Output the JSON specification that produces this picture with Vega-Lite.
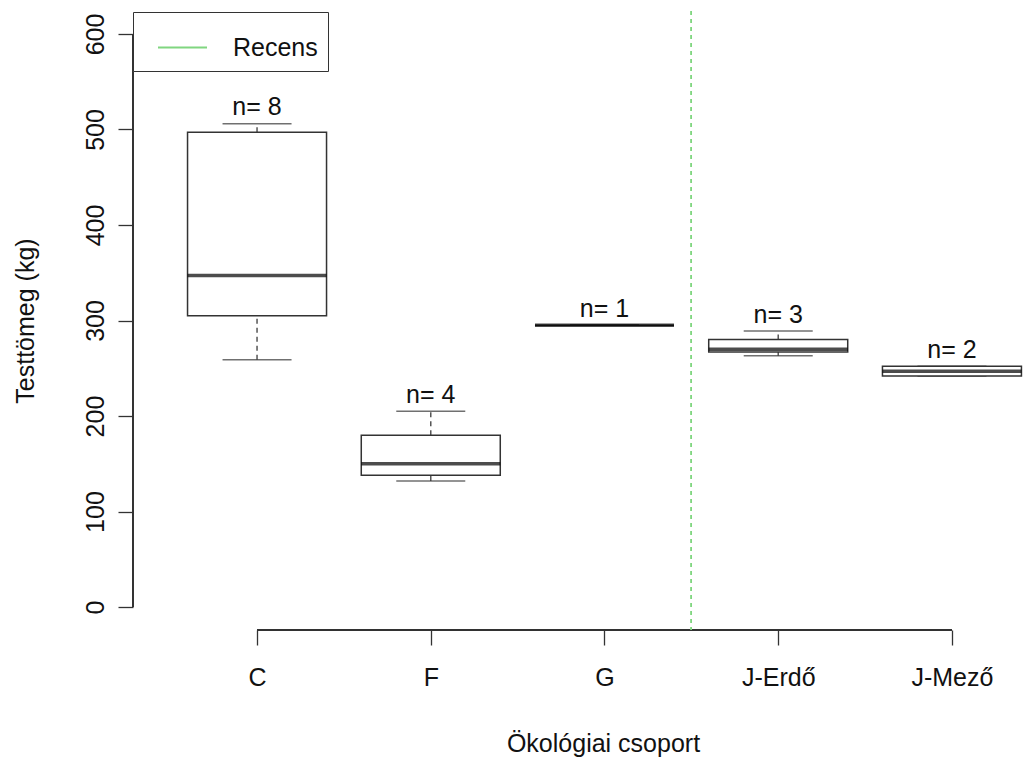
{
  "$schema": "https://vega.github.io/schema/vega-lite/v6.json",
  "width": 890,
  "height": 619,
  "autosize": {"type": "none"},
  "padding": {"left": 133, "top": 11, "right": 0, "bottom": 128},
  "background": "white",
  "config": {
    "font": "Liberation Sans",
    "view": {"stroke": null},
    "axis": {"labelFont": "Liberation Sans", "titleFont": "Liberation Sans", "labelColor": "#111", "titleColor": "#111", "titleFontWeight": "normal", "tickColor": "#333", "tickWidth": 1.3, "grid": false, "domain": false}
  },
  "data": {
    "values": [
      {"group": "C", "pos": 1, "lo": 259, "q1": 305, "med": 347, "q3": 497, "hi": 506, "n": "n= 8"},
      {"group": "F", "pos": 2, "lo": 132, "q1": 138, "med": 150, "q3": 180, "hi": 205, "n": "n= 4"},
      {"group": "G", "pos": 3, "lo": 295, "q1": 295, "med": 295, "q3": 295, "hi": 295, "n": "n= 1"},
      {"group": "J-Erdő", "pos": 4, "lo": 263, "q1": 267, "med": 270, "q3": 280, "hi": 289, "n": "n= 3"},
      {"group": "J-Mező", "pos": 5, "lo": 242, "q1": 242, "med": 247, "q3": 252, "hi": 252, "n": "n= 2"}
    ]
  },
  "encoding": {
    "x": {
      "field": "pos", "type": "quantitative",
      "scale": {"domain": [0.286, 5.409], "nice": false, "zero": false, "padding": 0},
      "axis": {"values": [1, 2, 3, 4, 5], "labelExpr": "['','C','F','G','J-Erdő','J-Mező'][datum.value]", "tickSize": 15, "labelPadding": 40, "labelBaseline": "alphabetic", "labelFontSize": 25, "title": "Ökológiai csoport", "titleFontSize": 25, "titleBaseline": "alphabetic", "titleX": 470, "titleY": 121}
    }
  },
  "layer": [
    {
      "mark": {"type": "rule", "color": "#333", "strokeWidth": 1.3},
      "encoding": {"x": {"datum": 1}, "x2": {"datum": 5}, "y": {"datum": -24}}
    },
    {
      "mark": {"type": "rule", "color": "#333", "strokeWidth": 1.3},
      "encoding": {"x": {"datum": 0.286}, "y": {"datum": 0}, "y2": {"datum": 600}}
    },
    {
      "mark": {"type": "rule", "color": "#555", "strokeWidth": 1.5, "strokeDash": [5, 4]},
      "encoding": {
        "y": {"field": "q3", "type": "quantitative", "scale": {"domain": [-24, 624], "nice": false, "zero": false, "padding": 0},
          "axis": {"values": [0, 100, 200, 300, 400, 500, 600], "tickSize": 15, "labelAngle": 270, "labelAlign": "center", "labelBaseline": "alphabetic", "labelPadding": 15, "labelFontSize": 25, "title": "Testtömeg (kg)", "titleFontSize": 25, "titleAngle": 270, "titleAlign": "center", "titleBaseline": "alphabetic", "titleX": -100, "titleY": 309.5}},
        "y2": {"field": "hi"}
      }
    },
    {
      "mark": {"type": "rule", "color": "#555", "strokeWidth": 1.5, "strokeDash": [5, 4]},
      "encoding": {"y": {"field": "lo", "type": "quantitative"}, "y2": {"field": "q1"}}
    },
    {
      "mark": {"type": "tick", "orient": "horizontal", "size": 69, "thickness": 1.5, "color": "#333"},
      "encoding": {"y": {"field": "hi", "type": "quantitative"}}
    },
    {
      "mark": {"type": "tick", "orient": "horizontal", "size": 69, "thickness": 1.5, "color": "#333"},
      "encoding": {"y": {"field": "lo", "type": "quantitative"}}
    },
    {
      "mark": {"type": "bar", "orient": "vertical", "size": 139, "fill": "white", "stroke": "#333", "strokeWidth": 1.5},
      "encoding": {"y": {"field": "q1", "type": "quantitative"}, "y2": {"field": "q3"}}
    },
    {
      "mark": {"type": "tick", "orient": "horizontal", "size": 139, "thickness": 3.5, "color": "black"},
      "encoding": {"y": {"field": "med", "type": "quantitative"}}
    },
    {
      "mark": {"type": "text", "baseline": "alphabetic", "dy": -8.5, "fontSize": 25, "color": "#111"},
      "encoding": {"y": {"field": "hi", "type": "quantitative"}, "text": {"field": "n"}}
    },
    {
      "mark": {"type": "rule", "strokeWidth": 1.3, "strokeDash": [4, 4]},
      "encoding": {
        "x": {"datum": 3.5},
        "color": {"datum": "Recens", "type": "nominal", "scale": {"range": ["#80d680"]},
          "legend": {"title": null, "orient": "none", "legendX": 0, "legendY": 1, "symbolType": "stroke", "symbolSize": 2401, "symbolStrokeWidth": 2, "symbolDash": [1, 0], "symbolOffset": 14, "strokeColor": "#333", "fillColor": "white", "padding": 10, "labelFontSize": 25, "labelOffset": 25, "labelColor": "#111", "labelFont": "Liberation Sans"}}
      }
    }
  ]
}
